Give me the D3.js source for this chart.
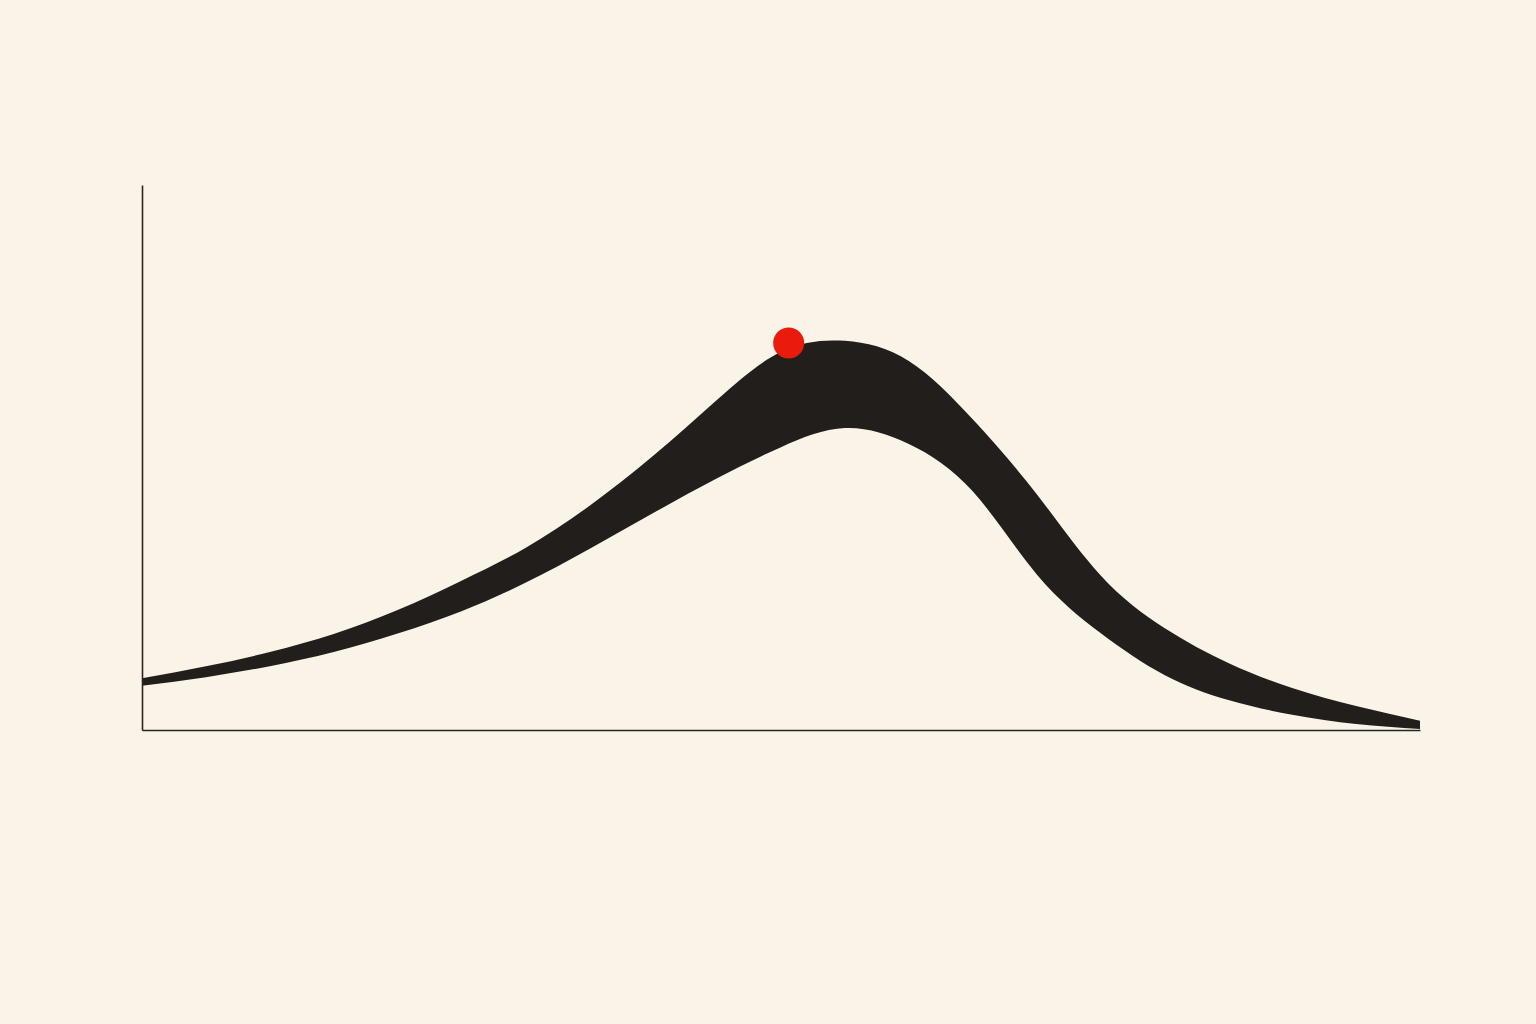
<!doctype html>
<html lang="en">
  <head>
    <meta charset="utf-8">
    <title>Band curve</title>
    <style>
      html, body { margin: 0; padding: 0; background: #faf3e7; }
      svg { display: block; }
    </style>
  </head>
  <body>
    <script src="https://cdn.jsdelivr.net/npm/d3@7"></script>
    <script>

    // x positions of the samples
    var xs = [0, 0.5, 1, 1.5, 2, 2.5, 3, 3.5, 4, 4.5, 5, 5.5, 6, 6.5, 7, 7.5, 8, 8.5, 9, 9.5, 10];

    // top edge of the band
    var upper = [0.95, 1.17, 1.43, 1.76, 2.20, 2.74, 3.34, 4.11, 5.03, 6.06, 6.94,
                 7.14, 6.77, 5.70, 4.33, 2.84, 1.87, 1.23, 0.77, 0.44, 0.17];

    // bottom edge of the band
    var lower = [0.81, 0.97, 1.17, 1.43, 1.77, 2.18, 2.70, 3.32, 3.98, 4.62, 5.19,
                 5.54, 5.25, 4.38, 2.86, 1.78, 1.01, 0.55, 0.28, 0.11, 0.02];

    // the red marker
    var marker = [{x: 5.06, y: 7.10}];

    var data = xs.map(function(d, i){ return {x: d, hi: upper[i], lo: lower[i]}; });

    var W = 1536, H = 1024;

    var svg = d3.select("body")
      .append("svg")
      .attr("width", W)
      .attr("height", H);

    var x = d3.scaleLinear()
        .domain([0, 10])
        .range([142, 1420]);

    var y = d3.scaleLinear()
        .domain([0, 10])
        .range([730, 185]);

    var area = d3.area()
        .x(function(d){ return x(d.x); })
        .y0(function(d){ return y(d.lo); })
        .y1(function(d){ return y(d.hi); })
        .curve(d3.curveNatural);

    svg.append("path")
      .datum(data)
      .attr("d", area)
      .attr("fill", "#221e1b");

    // axes, just the bare lines
    svg.append("g")
      .attr("transform", "translate(" + x(0) + ",0)")
      .call(d3.axisLeft(y).ticks(0).tickSizeOuter(0))
      .select(".domain")
      .attr("stroke", "#2a2522")
      .attr("stroke-width", 1.6);

    svg.append("g")
      .attr("transform", "translate(0," + y(0) + ")")
      .call(d3.axisBottom(x).ticks(0).tickSizeOuter(0))
      .select(".domain")
      .attr("stroke", "#2a2522")
      .attr("stroke-width", 1.6);

    svg.selectAll(".dot")
      .data(marker)
      .enter()
      .append("circle")
      .attr("class", "dot")
      .attr("cx", function(d){ return x(d.x); })
      .attr("cy", function(d){ return y(d.y); })
      .attr("r", 15.5)
      .attr("fill", "#ea1a0c");

    </script>
  </body>
</html>
